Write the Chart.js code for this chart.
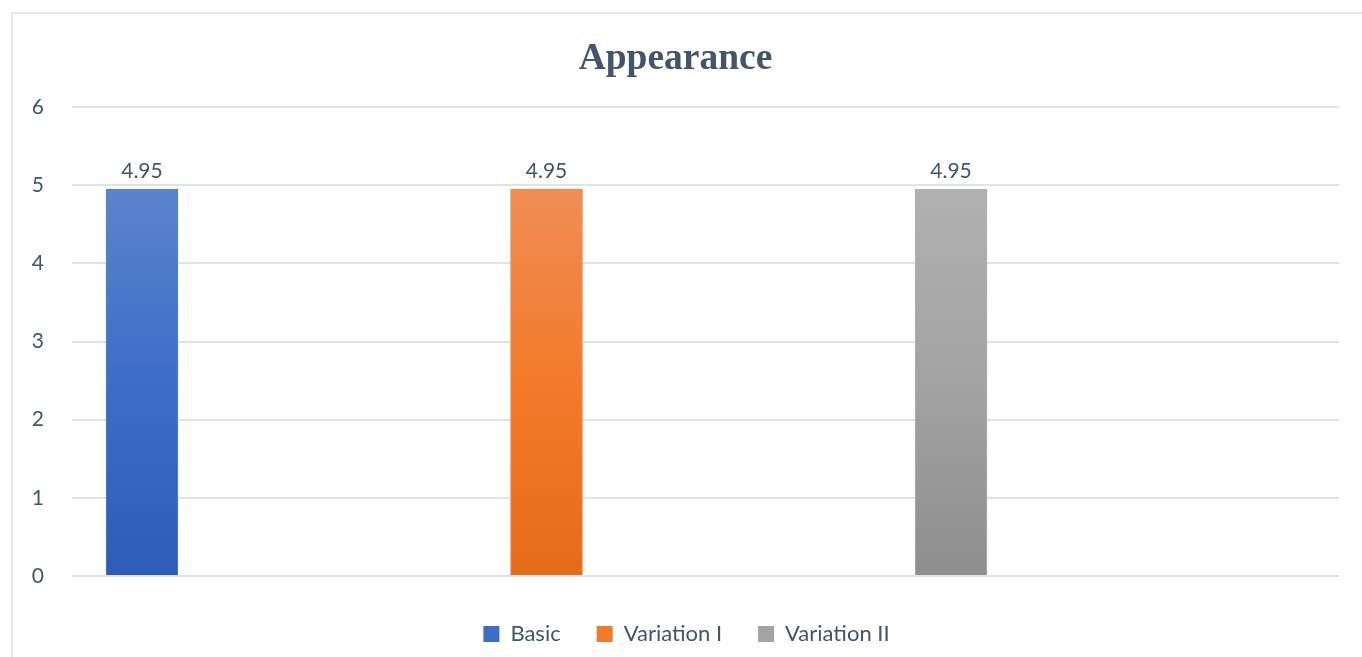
<!DOCTYPE html>
<html>
<head>
    <meta charset="UTF-8">
    <title>Appearance</title>
    <style>
        html, body {
            margin: 0;
            padding: 0;
            background: #ffffff;
        }

        #wrap {
            position: relative;
            width: 1362px;
            height: 657px;
            overflow: hidden;
        }

        #frame {
            position: absolute;
            left: 11px;
            top: 12px;
            width: 1400px;
            height: 700px;
            border: 2px solid #e3e7ec;
            box-sizing: border-box;
        }

        #appearance-chart {
            position: absolute;
            left: 0;
            top: 0;
        }
    </style>
    <script src="https://cdn.jsdelivr.net/npm/chart.js@4.4.0/dist/chart.umd.min.js"></script>
    <script>
        // 계열 이름과 값
        var seriesNames = ['Basic', 'Variation I', 'Variation II'];
        var seriesValues = [4.95, 4.95, 4.95];
        var yTicks = [0, 1, 2, 3, 4, 5, 6];

        // 막대 그라데이션 색 (위, 가운데, 아래)
        var seriesColors = [
            ['#5b84cd', '#3d6cc9', '#2d5cb8'],
            ['#f08d55', '#f37a2a', '#e46c19'],
            ['#b1b1b1', '#a3a3a3', '#8e8e8e']
        ];

        var textColor = '#44546a';
        var bodyFont = 'Lato, "Open Sans", sans-serif';

        function barGradient(ctx, colors) {
            var chart = ctx.chart;
            var area = chart.chartArea;
            if (!area) {
                return colors[1];
            }
            var y = chart.scales.y;
            var top = y.getPixelForValue(seriesValues[ctx.datasetIndex]);
            var g = chart.ctx.createLinearGradient(0, top, 0, y.getPixelForValue(0));
            g.addColorStop(0, colors[0]);
            g.addColorStop(0.5, colors[1]);
            g.addColorStop(1, colors[2]);
            return g;
        }

        // 막대 위에 값 표시
        var valueLabels = {
            id: 'valueLabels',
            afterDatasetsDraw: function(chart) {
                var ctx = chart.ctx;
                ctx.save();
                ctx.font = '21px ' + bodyFont;
                ctx.fillStyle = textColor;
                ctx.textAlign = 'center';
                ctx.textBaseline = 'bottom';
                chart.data.datasets.forEach(function(ds, i) {
                    var meta = chart.getDatasetMeta(i);
                    meta.data.forEach(function(bar, j) {
                        ctx.fillText(ds.data[j].y.toFixed(2), bar.x, bar.y - 7);
                    });
                });
                ctx.restore();
            }
        };

        // 범례를 오른쪽으로 조금 이동
        var legendShift = {
            id: 'legendShift',
            afterLayout: function(chart) {
                if (chart.legend) {
                    chart.legend.left += 11;
                    chart.legend.right += 11;
                }
            }
        };

        window.onload = function() {
            var datasets = [];
            for (var i = 0; i < seriesNames.length; i++) {
                (function(i) {
                    datasets.push({
                        label: seriesNames[i],
                        data: [{x: i + 1, y: seriesValues[i]}],
                        backgroundColor: function(ctx) {
                            return barGradient(ctx, seriesColors[i]);
                        },
                        borderColor: seriesColors[i][0],
                        borderWidth: 1,
                        barThickness: 72,
                        grouped: false
                    });
                })(i);
            }

            var ctx = document.getElementById('appearance-chart').getContext('2d');
            new Chart(ctx, {
                type: 'bar',
                data: {
                    datasets: datasets
                },
                plugins: [valueLabels, legendShift],
                options: {
                    responsive: false,
                    animation: false,
                    layout: {
                        padding: {left: 12, right: 23, top: 0, bottom: 2}
                    },
                    scales: {
                        x: {
                            type: 'linear',
                            min: 0.827,
                            max: 3.959,
                            offset: false,
                            display: true,
                            afterFit: function(scale) {
                                scale.height = 11;
                            },
                            border: {display: false},
                            grid: {display: false},
                            ticks: {display: false}
                        },
                        y: {
                            min: 0,
                            max: 6,
                            afterBuildTicks: function(scale) {
                                scale.ticks = yTicks.map(function(v) { return {value: v}; });
                            },
                            afterFit: function(scale) {
                                scale.width = 60;
                            },
                            border: {display: false},
                            grid: {
                                color: '#dfe3e8',
                                lineWidth: 2,
                                drawTicks: false
                            },
                            ticks: {
                                padding: 28,
                                color: textColor,
                                font: {family: bodyFont, size: 21}
                            }
                        }
                    },
                    plugins: {
                        title: {
                            display: true,
                            text: 'Appearance',
                            color: textColor,
                            font: {family: '"Liberation Serif", "Times New Roman", serif', size: 37.5, weight: 'bold'},
                            padding: {top: 37, bottom: 25}
                        },
                        legend: {
                            position: 'bottom',
                            labels: {
                                boxWidth: 16,
                                boxHeight: 16,
                                padding: 36,
                                color: textColor,
                                font: {family: bodyFont, size: 22},
                                generateLabels: function(chart) {
                                    return chart.data.datasets.map(function(ds, i) {
                                        return {
                                            text: ds.label,
                                            fillStyle: seriesColors[i][1],
                                            strokeStyle: seriesColors[i][1],
                                            lineWidth: 0,
                                            fontColor: textColor,
                                            datasetIndex: i
                                        };
                                    });
                                }
                            }
                        },
                        tooltip: {enabled: false}
                    }
                }
            });
        };
    </script>
</head>
<body>
<div id="wrap">
    <div id="frame"></div>
    <canvas id="appearance-chart" width="1362" height="657"></canvas>
</div>
</body>
</html>
